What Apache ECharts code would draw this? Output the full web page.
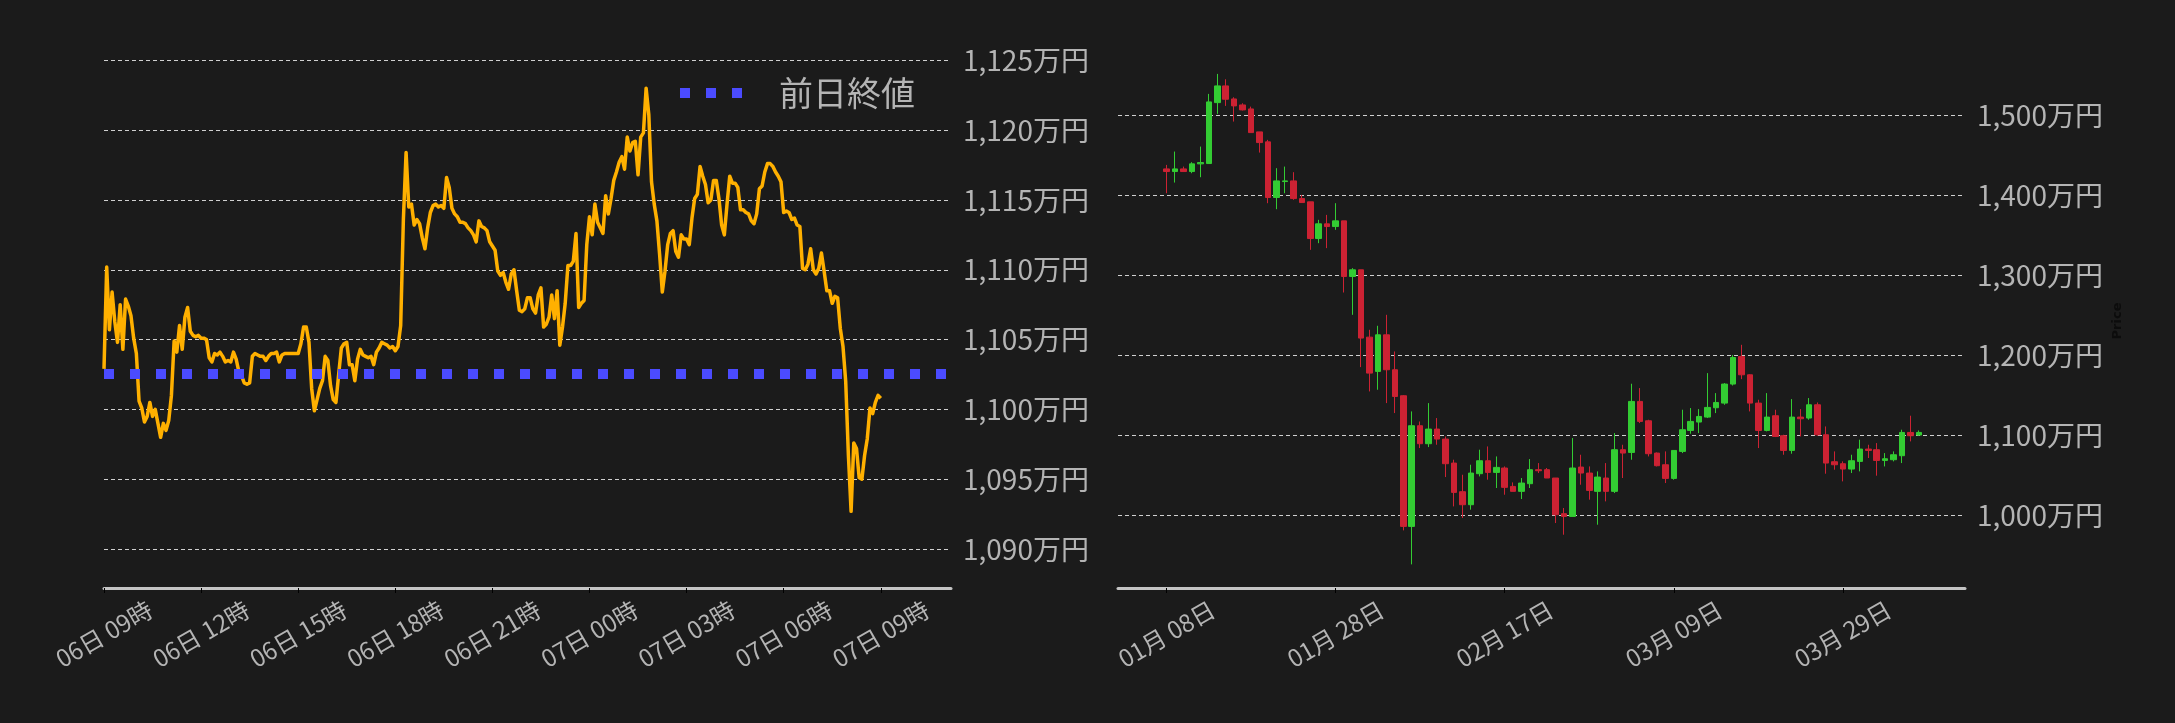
<!DOCTYPE html>
<html>
<head>
<meta charset="utf-8">
<script src="https://cdn.jsdelivr.net/npm/echarts@6.0.0/dist/echarts.min.js"></script>
<style>
html,body{margin:0;padding:0;background:#1b1b1b;}
#chart{width:2175px;height:723px;}
</style>
</head>
<body>
<div id="chart"></div>
<script>
// ---------- Left chart: intraday price (5-minute samples from 06日 09時) ----------
const lineStartHour = 9;      // 06日 09時
const lineStepMinutes = 5;
const lineValues = [
1102.9,1110.2,1105.7,1108.4,1106.3,1104.8,1107.5,1104.3,1107.9,1107.4,
1106.7,1105.1,1104.0,1100.6,1100.1,1099.1,1099.5,1100.5,1099.5,1100.0,
1099.0,1098.0,1099.0,1098.5,1099.2,1101.0,1104.9,1104.1,1106.0,1104.3,
1106.6,1107.3,1105.6,1105.3,1105.2,1105.3,1105.1,1105.1,1105.0,1103.7,
1103.4,1104.0,1103.9,1104.1,1103.8,1103.4,1103.5,1103.4,1104.1,1103.6,
1102.7,1102.4,1101.9,1101.8,1101.9,1103.8,1104.0,1103.9,1103.8,1103.8,
1103.5,1103.8,1104.0,1104.0,1104.1,1103.4,1103.9,1104.0,1104.0,1104.0,
1104.0,1104.0,1104.0,1104.7,1105.9,1105.9,1104.8,1101.5,1099.9,1100.7,
1101.5,1102.05,1103.8,1103.5,1101.7,1100.7,1100.5,1102.5,1104.4,1104.7,
1104.8,1103.2,1103.2,1102.05,1103.6,1104.3,1103.9,1103.8,1103.7,1103.8,
1103.2,1104.1,1104.4,1104.8,1104.7,1104.6,1104.4,1104.5,1104.2,1104.5,
1106.0,1113.6,1118.4,1114.5,1114.7,1113.2,1113.6,1113.3,1112.3,1111.5,
1113.0,1114.1,1114.6,1114.7,1114.5,1114.6,1114.4,1116.6,1115.9,1114.4,
1114.0,1113.8,1113.4,1113.4,1113.3,1113.0,1112.8,1112.5,1112.0,1113.5,
1113.1,1113.0,1112.8,1112.0,1111.7,1111.4,1109.9,1109.6,1109.8,1109.1,
1108.6,1109.7,1110.0,1108.5,1107.1,1107.0,1107.2,1108.0,1108.0,1107.2,
1106.9,1108.2,1108.7,1105.9,1106.1,1106.6,1108.2,1106.5,1108.5,1104.6,
1105.9,1107.6,1110.3,1110.3,1110.6,1112.6,1107.3,1107.6,1107.8,1111.8,
1113.8,1112.5,1114.7,1113.4,1113.0,1112.6,1115.3,1114.0,1115.1,1116.4,
1117.0,1117.7,1118.1,1117.2,1119.5,1118.5,1119.1,1119.2,1116.8,1119.5,
1119.8,1123.0,1121.1,1116.3,1114.7,1113.5,1111.1,1108.4,1109.9,1111.8,
1112.6,1112.8,1111.3,1110.9,1112.5,1112.2,1112.2,1111.8,1113.7,1115.1,
1115.4,1117.4,1116.7,1116.1,1114.8,1115.0,1116.4,1116.4,1115.1,1113.2,
1112.5,1114.7,1116.7,1116.2,1116.2,1115.9,1114.3,1114.3,1114.1,1114.0,
1113.5,1113.3,1114.0,1115.8,1116.0,1117.0,1117.6,1117.6,1117.4,1117.0,
1116.7,1116.3,1114.1,1114.2,1114.1,1113.6,1113.7,1113.2,1113.1,1110.1,
1110.0,1110.4,1111.5,1110.0,1109.7,1110.1,1111.2,1109.9,1108.5,1108.5,
1107.6,1108.1,1108.0,1105.8,1104.5,1102.0,1096.7,1092.7,1097.6,1097.2,
1095.1,1095.0,1096.7,1097.9,1100.1,1099.7,1100.5,1101.0,1100.8
];
const prevClose = 1102.54;   // 前日終値
const prevCloseName = '前日終値';

// ---------- Right chart: daily candles from 2025-01-08 ----------
const candleStartDate = [2025, 0, 8];
const candleOpen = [
1432.9,1429.6,1432.9,1429.6,1439.2,1439.6,1515.8,1536.7,1520.4,1512.9,
1507.9,1479.2,1466.7,1397.1,1417.1,1417.9,1395.8,1391.7,1345.8,1364.2,
1360.8,1367.9,1298.3,1306.7,1222.5,1179.6,1225.4,1181.7,1149.2,985.8,
1111.7,1089.2,1107.5,1095.0,1065.0,1029.2,1012.9,1051.7,1067.9,1053.3,
1058.8,1035.8,1029.6,1039.2,1056.7,1056.7,1046.3,1001.7,998.3,1060.0,
1052.5,1029.6,1046.3,1029.6,1081.7,1078.3,1142.1,1117.9,1077.5,1062.9,
1045.8,1079.6,1105.8,1116.3,1122.5,1134.2,1140.0,1163.8,1198.3,1175.4,
1140.0,1105.8,1124.2,1099.2,1080.8,1122.5,1121.3,1137.9,1100.4,1066.7,
1064.2,1057.5,1067.1,1082.5,1081.7,1068.3,1069.2,1074.2,1103.3,1100.0
];
const candleClose = [
1429.6,1432.9,1429.6,1439.2,1440.8,1516.7,1536.7,1520.0,1511.7,1506.7,
1478.3,1465.8,1397.1,1417.9,1417.9,1395.8,1390.8,1345.8,1364.2,1360.8,
1367.9,1298.3,1306.7,1221.3,1177.5,1225.4,1181.7,1148.3,985.8,1111.7,
1089.2,1107.5,1095.0,1064.2,1028.3,1012.9,1052.5,1067.9,1053.3,1059.6,
1034.6,1029.6,1040.0,1056.7,1055.4,1046.3,1000.4,998.3,1058.8,1052.5,
1030.8,1047.5,1029.6,1081.7,1077.5,1142.1,1117.1,1076.7,1061.7,1045.8,
1080.8,1106.7,1117.1,1123.3,1134.6,1140.8,1163.8,1197.0,1175.4,1140.0,
1105.8,1122.5,1098.3,1080.8,1122.5,1120.4,1137.9,1100.4,1065.0,1062.9,
1057.5,1067.9,1082.5,1080.8,1068.3,1070.4,1075.4,1103.3,1099.2,1103.3
];
const candleLow = [
1402.5,1415.8,1429.0,1427.5,1422.5,1439.0,1501.7,1511.7,1492.1,1506.0,
1478.0,1453.3,1390.0,1382.5,1402.5,1394.2,1390.8,1331.7,1340.0,1333.8,
1356.7,1278.3,1250.4,1185.0,1154.6,1156.7,1140.0,1127.5,980.8,938.3,
1083.8,1085.0,1087.9,1047.5,1010.8,996.3,1006.7,1048.3,1044.2,1033.8,
1025.4,1029.6,1020.0,1033.8,1052.5,1046.3,990.0,975.4,998.0,1037.9,
1019.2,987.9,1017.1,1027.5,1046.3,1069.2,1115.0,1073.3,1060.8,1040.0,
1044.2,1077.5,1101.7,1102.5,1121.3,1127.5,1137.9,1162.0,1170.0,1129.6,
1083.8,1104.6,1097.5,1075.4,1076.7,1098.3,1119.2,1099.2,1051.7,1056.7,
1042.1,1052.5,1054.6,1071.3,1049.2,1060.8,1067.1,1065.0,1092.1,1099.2
];
const candleHigh = [
1437.9,1454.6,1435.8,1441.3,1460.8,1526.7,1551.7,1545.0,1522.5,1515.0,
1510.8,1479.2,1469.2,1433.8,1435.8,1428.8,1400.4,1391.7,1369.2,1375.4,
1390.0,1367.9,1308.8,1306.7,1231.7,1236.7,1250.4,1204.6,1150.0,1129.6,
1117.0,1140.0,1121.3,1098.3,1069.2,1050.4,1062.9,1081.7,1085.8,1073.3,
1060.8,1040.8,1046.3,1070.0,1065.0,1058.8,1046.3,1008.8,1096.3,1075.4,
1060.8,1054.6,1065.0,1102.5,1087.9,1164.2,1158.8,1119.2,1078.3,1079.6,
1080.8,1131.7,1133.8,1132.5,1177.5,1152.5,1165.0,1200.0,1212.9,1176.0,
1144.2,1152.5,1131.7,1100.4,1145.0,1132.5,1146.3,1140.8,1110.8,1079.6,
1067.1,1075.4,1094.2,1087.9,1090.0,1077.5,1079.6,1106.7,1124.2,1105.8
];

// ---------- helpers ----------
const pad2 = n => String(n).padStart(2, '0');
const yen = v => Math.round(v).toLocaleString('en-US') + '万円';
const hourLabel = h => {
  const hh = Math.round(h);
  return hh < 24 ? '06日 ' + pad2(hh) + '時' : '07日 ' + pad2(hh - 24) + '時';
};
const dayLabel = d => {
  const dt = new Date(Date.UTC(candleStartDate[0], candleStartDate[1], candleStartDate[2] + Math.round(d)));
  return pad2(dt.getUTCMonth() + 1) + '月 ' + pad2(dt.getUTCDate()) + '日';
};

const lineXMin = 9, lineXMax = 35.17;
const candleXMin = -5.74, candleXMax = 94.44;

const lineData = lineValues.map((v, i) => [lineStartHour + i * lineStepMinutes / 60, v]);
const prevData = [[lineXMin, prevClose], [lineXMax, prevClose]];
const candleData = candleOpen.map((o, i) => [i, o, candleClose[i], candleLow[i], candleHigh[i]]);

const FONT = '"Noto Sans CJK JP", "Noto Sans", sans-serif';
const labelColor = '#b4b4b4';
const prevColor = '#4b4bff';
const gridLineStyle = { color: '#d0d0d0', width: 1, type: [4, 3] };

const xAxisCommon = {
  type: 'value',
  axisLine: { show: true, lineStyle: { color: '#c4c4c4', width: 3 } },
  axisTick: { show: true, length: 5, lineStyle: { color: '#000', width: 1 } },
  splitLine: { show: false },
  axisLabel: {
    rotate: 30, align: 'center', verticalAlign: 'middle', margin: 46,
    color: labelColor, fontSize: 24, fontFamily: FONT,
    showMinLabel: false, showMaxLabel: false
  }
};
const yAxisCommon = {
  type: 'value', position: 'right',
  axisLine: { show: false }, axisTick: { show: false },
  splitLine: { show: true, lineStyle: gridLineStyle, showMinLine: false, showMaxLine: false },
  axisLabel: {
    color: labelColor, fontSize: 28, fontFamily: FONT, margin: 12,
    showMinLabel: false, showMaxLabel: false, formatter: yen
  }
};

const option = {
  backgroundColor: '#1b1b1b',
  animation: false,
  textStyle: { fontFamily: FONT },
  grid: [
    { left: 104, right: 1224, top: 54, bottom: 135 },
    { left: 1118, right: 210, top: 54, bottom: 135 }
  ],
  xAxis: [
    Object.assign({}, xAxisCommon, { gridIndex: 0, min: lineXMin, max: lineXMax, minInterval: 3, maxInterval: 3,
      axisLabel: Object.assign({}, xAxisCommon.axisLabel, { formatter: hourLabel, showMinLabel: true }) }),
    Object.assign({}, xAxisCommon, { gridIndex: 1, min: candleXMin, max: candleXMax, minInterval: 20, maxInterval: 20,
      axisLabel: Object.assign({}, xAxisCommon.axisLabel, { formatter: dayLabel }) })
  ],
  yAxis: [
    Object.assign({}, yAxisCommon, { gridIndex: 0, min: 1087.21, max: 1125.45, minInterval: 5, maxInterval: 5 }),
    Object.assign({}, yAxisCommon, { gridIndex: 1, min: 908.75, max: 1576.6, minInterval: 100, maxInterval: 100,
      name: 'Price', nameLocation: 'middle', nameGap: 146, nameRotate: 90,
      nameTextStyle: { color: '#0c0c0c', fontSize: 13, fontWeight: 'bold', fontFamily: 'DejaVu Sans' } })
  ],
  legend: {
    data: [{
      name: prevCloseName,
      icon: 'path://M0,0h10v10h-10z M26,0h10v10h-10z M52,0h10v10h-10z',
      itemStyle: { color: prevColor, borderWidth: 0 }
    }],
    left: 680, top: 76, padding: 0,
    itemWidth: 62, itemHeight: 10,
    itemStyle: { color: prevColor, borderWidth: 0 },
    lineStyle: { width: 0 },
    textStyle: { color: labelColor, fontSize: 34, fontFamily: FONT, padding: [0, 0, 0, 32] }
  },
  series: [
    {
      name: '価格', type: 'line', xAxisIndex: 0, yAxisIndex: 0,
      data: lineData, showSymbol: false, symbol: 'none',
      lineStyle: { color: '#ffb000', width: 3.5, join: 'round' },
      itemStyle: { color: '#ffb000' }, z: 2
    },
    {
      name: prevCloseName, type: 'line', xAxisIndex: 0, yAxisIndex: 0,
      data: prevData, showSymbol: false, symbol: 'none',
      lineStyle: { color: prevColor, width: 10, type: [10, 16], cap: 'butt' },
      itemStyle: { color: prevColor }, z: 3
    },
    {
      name: 'ohlc', type: 'candlestick', xAxisIndex: 1, yAxisIndex: 1,
      dimensions: ['day', 'open', 'close', 'lowest', 'highest'],
      encode: { x: 'day', y: ['open', 'close', 'lowest', 'highest'] },
      data: candleData, barWidth: 6,
      itemStyle: { color: '#33cc33', color0: '#cc2233', borderColor: '#33cc33', borderColor0: '#cc2233', borderWidth: 1 }
    }
  ]
};

const chart = echarts.init(document.getElementById('chart'), null, { renderer: 'canvas' });
chart.setOption(option);
</script>
</body>
</html>
